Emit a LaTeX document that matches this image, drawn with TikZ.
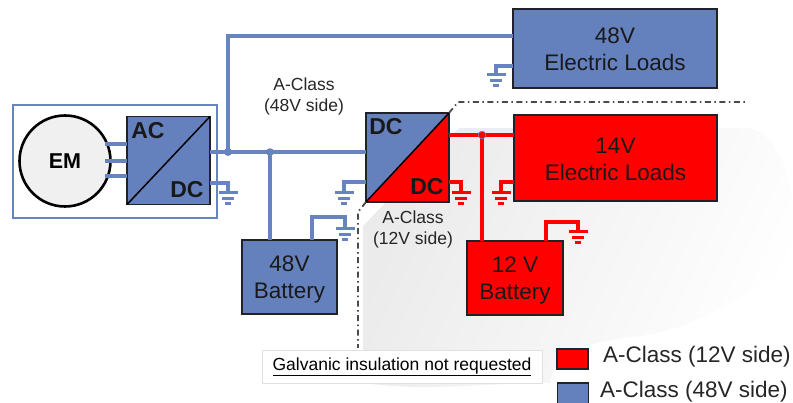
\documentclass[tikz,border=0pt]{standalone}
\usepackage{fontspec}
\setmainfont{Liberation Sans}
\definecolor{bluefill}{HTML}{6581BD}
\definecolor{blueline}{HTML}{6884C0}
\definecolor{boxline}{HTML}{1F2328}
\definecolor{dashgray}{HTML}{4A4A4A}
\tikzset{
  fbox/.style={draw=boxline,line width=1.5pt,inner sep=0pt,outer sep=0pt,align=center,font=\fontsize{22.5}{27}\selectfont,text=black!90},
  bluebox/.style={fbox,fill=bluefill},
  redbox/.style={fbox,fill=red},
  bluewire/.style={draw=blueline,line width=3.1pt},
  redwire/.style={draw=red,line width=3.1pt},
  lab/.style={inner sep=0pt,align=center,font=\fontsize{17.5}{21}\selectfont,text=black!85},
  boldlab/.style={inner sep=0pt,font=\bfseries\fontsize{23}{27}\selectfont,text=black!90},
  legendlab/.style={inner sep=0pt,anchor=west,font=\fontsize{22.5}{27}\selectfont,text=black!85},
  insul/.style={draw=dashgray,line width=1.8pt,dash pattern=on 6pt off 3.5pt on 1.5pt off 3.5pt},
  pics/gnd/.style={code={
    \draw[line width=3pt,#1] (-9.5,0) -- (9.5,0);
    \draw[line width=3pt,#1] (-6,6) -- (6,6);
    \draw[line width=3pt,#1] (-3,11) -- (3,11);
  }}
}
\begin{document}
\begin{tikzpicture}[x=1pt,y=-1pt]
\useasboundingbox (0,0) rectangle (793,403);
% shaded background
\shade[left color=black!8,right color=white,shading angle=65]
  (460,128) -- (743,128) .. controls (793,128) and (800,230) .. (793,262)
  .. controls (740,300) and (690,330) .. (640,336)
  .. controls (590,342) and (556,350) .. (550,383)
  .. controls (480,383) and (430,392) .. (363,383) -- (363,226) -- (388,200) -- (449,136) -- cycle;
% outer EM box
\node[draw=blueline,line width=1.5pt,fill=white,minimum width=204pt,minimum height=113pt,inner sep=0pt] (frame) at (115,161.5) {};
% nodes
\node[draw=black,line width=2.6pt,fill=black!6,circle,minimum size=91pt,inner sep=0pt,font=\bfseries\fontsize{21.5}{24}\selectfont] (em) at (65,161) {EM};
\node[bluebox,minimum width=83pt,minimum height=88pt] (acdc) at (168.5,160.5) {};
\node[bluebox,minimum width=83pt,minimum height=89pt] (dcdc) at (407.5,157.5) {};
\node[bluebox,minimum width=204pt,minimum height=79pt] (load48) at (615,48.5) {\rule{0pt}{18pt}48V\\Electric Loads};
\node[redbox,minimum width=203pt,minimum height=86pt] (load14) at (615.5,158) {\rule{0pt}{18pt}14V\\Electric Loads};
\node[bluebox,minimum width=95pt,minimum height=74pt] (bat48) at (289.5,277) {\rule{0pt}{21pt}48V\\Battery};
\node[redbox,minimum width=96pt,minimum height=74pt] (bat12) at (515,278) {\rule{0pt}{20pt}12 V\\Battery};
% converter internals
\fill[red] (dcdc.north east) -- (dcdc.south east) -- (dcdc.south west) -- cycle;
\draw[boxline,line width=1.5pt] (dcdc.north west) rectangle (dcdc.south east);
\draw[black,line width=1.5pt] (dcdc.south west) -- (dcdc.north east);
\draw[black,line width=1.5pt] (acdc.south west) -- (acdc.north east);
\node[boldlab] (lac) at (148,131) {AC};
\node[boldlab] (ldc) at (187,190) {DC};
\node[boldlab] (ldc2) at (386,127) {DC};
\node[boldlab] (ldc3) at (427,187) {DC};
% coordinates
\coordinate (jbus) at (228,152);
\coordinate (jbat) at (270,152);
\coordinate (jred) at (482,135);
\coordinate (g1) at (228,193);
\coordinate (g2) at (344,193);
\coordinate (g3) at (461,193);
\coordinate (g4) at (501,193);
\coordinate (g5) at (496,75);
\coordinate (g6) at (345,229);
\coordinate (g7) at (578,232);
\coordinate (tapB) at (312,217);
\coordinate (tapR) at (546,222);
% EM phases
\foreach \yy/\nm in {144/a,161/b,176/c}{
  \draw[bluewire] (em.center |- 0,\yy) ++(40,0) -- (acdc.west |- 0,\yy);
}
% wires
\draw[bluewire] (acdc.east |- jbus) -- (dcdc.west |- jbus);
\draw[bluewire] (jbus) |- (load48.west |- 0,36);
\draw[bluewire] (jbat) -- (bat48.north -| jbat);
\draw[bluewire] (acdc.east |- 0,183) -| (g1);
\draw[bluewire] (dcdc.west |- 0,182) -| (g2);
\draw[bluewire] (load48.west |- 0,66) -| (g5);
\draw[bluewire] (bat48.north -| tapB) |- (tapB) -| (g6);
\draw[redwire] (dcdc.east |- jred) -- (load14.west |- jred);
\draw[redwire] (jred) -- (bat12.north -| jred);
\draw[redwire] (dcdc.east |- 0,182) -| (g3);
\draw[redwire] (load14.west |- 0,182) -| (g4);
\draw[redwire] (bat12.north -| tapR) |- (tapR) -| (g7);
% junctions
\fill[blueline] (jbus) circle (4pt);
\fill[blueline] (jbat) circle (3.8pt);
\fill[red,draw=blueline,line width=.7pt] (jred) circle (3.8pt);
% grounds
\pic at (g1) {gnd=blueline};
\pic at (g2) {gnd=blueline};
\pic at (g5) {gnd=blueline};
\pic at (g6) {gnd=blueline};
\pic at (g3) {gnd=red};
\pic at (g4) {gnd=red};
\pic at (g7) {gnd=red};
% insulation boundary
\coordinate (iA) at (458,102);
\coordinate (iB) at (747,102);
\coordinate (iC) at (358,212);
\coordinate (iD) at (358,348);
\draw[insul] (dcdc.north east) -- (iA) -- (iB);
\draw[insul] (dcdc.south west) -- (iC) -- (iD);
% labels
\node[lab] (l48) at (304,96) {A-Class\\(48V side)};
\node[lab] (l12) at (413,229.5) {A-Class\\(12V side)};
\node[draw=black!12,line width=.6pt,fill=white,minimum width=280pt,minimum height=33pt,inner sep=0pt,font=\fontsize{17.5}{21}\selectfont] (gal) at (402,366.5) {\underline{Galvanic insulation not requested}};
% legend
\node[redbox,minimum width=31pt,minimum height=20pt] (kr) at (572.5,359) {};
\node[bluebox,minimum width=31pt,minimum height=26pt] (kb) at (573,396) {};
\node[legendlab] (tr) at (603,357) {A-Class (12V side)};
\node[legendlab] (tb) at (600,392) {A-Class (48V side)};
\end{tikzpicture}
\end{document}
